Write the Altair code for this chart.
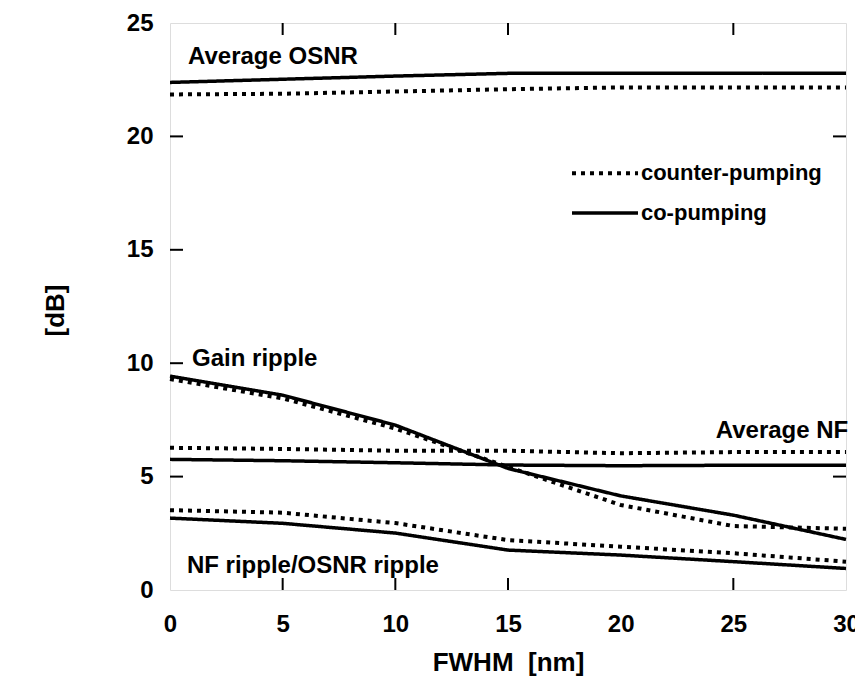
import altair as alt
import pandas as pd

# ---- data ----
fwhm = [0, 5, 10, 15, 20, 25, 30]
osnr_co = [22.38, 22.52, 22.66, 22.78, 22.78, 22.78, 22.78]
osnr_counter = [21.85, 21.88, 21.98, 22.08, 22.16, 22.16, 22.16]
gain_co = [9.43, 8.59, 7.27, 5.36, 4.15, 3.30, 2.23]
gain_counter = [9.30, 8.45, 7.12, 5.43, 3.75, 2.82, 2.70]
nf_co = [5.76, 5.70, 5.61, 5.51, 5.48, 5.50, 5.50]
nf_counter = [6.27, 6.22, 6.14, 6.14, 6.03, 6.08, 6.08]
ripple_co = [3.17, 2.94, 2.51, 1.76, 1.54, 1.25, 0.95]
ripple_counter = [3.52, 3.41, 2.95, 2.20, 1.91, 1.62, 1.25]

x_ticks = [0, 5, 10, 15, 20, 25, 30]
y_ticks = [0, 5, 10, 15, 20, 25]
bottom_ticks = [5, 10, 15, 25]
top_ticks = [5, 10, 15, 25]
left_ticks = [5, 10, 15, 20]
right_ticks = [5, 20]

labels = ["Average OSNR", "Gain ripple", "NF ripple/OSNR ripple", "Average NF"]
label_x = [0.8, 0.98, 0.75, 30.1]
label_y = [23.5, 10.2, 1.05, 7.03]
label_align = ["left", "left", "left", "right"]

legend_names = ["counter-pumping", "co-pumping"]
legend_x0 = [17.84, 17.84]
legend_x1 = [20.77, 20.77]
legend_y = [18.38, 16.62]
legend_tx = 20.9

x_title = "FWHM \u00a0[nm]"
y_title = "[dB]"

FONT = "Liberation Sans"

rows = []
series = {
    ("osnr", "co-pumping"): osnr_co,
    ("osnr", "counter-pumping"): osnr_counter,
    ("gain", "co-pumping"): gain_co,
    ("gain", "counter-pumping"): gain_counter,
    ("nf", "co-pumping"): nf_co,
    ("nf", "counter-pumping"): nf_counter,
    ("ripple", "co-pumping"): ripple_co,
    ("ripple", "counter-pumping"): ripple_counter,
}
for (metric, pump), vals in series.items():
    for xv, yv in zip(fwhm, vals):
        rows.append({"metric": metric, "pump": pump, "fwhm": xv, "db": yv,
                     "key": metric + "|" + pump})
df = pd.DataFrame(rows)

W, H = 676, 567
xs = alt.Scale(domain=[0, 30], nice=False, zero=False)
ys = alt.Scale(domain=[0, 25], nice=False, zero=False)

dash_scale = alt.Scale(domain=["counter-pumping", "co-pumping"],
                       range=[[4, 5], [1, 0]])
width_scale = alt.Scale(domain=["counter-pumping", "co-pumping"], range=[4, 3.5])

lines = alt.Chart(df).mark_line(color="black", strokeCap="butt").encode(
    x=alt.X("fwhm:Q", scale=xs,
            axis=alt.Axis(values=x_ticks, title=x_title, grid=False,
                          ticks=False, tickSize=0, domain=False,
                          labelFont=FONT, labelFontWeight="bold", labelFontSize=24,
                          labelColor="black", labelPadding=22, labelFlush=False,
                          titleFont=FONT, titleFontWeight="bold", titleFontSize=26,
                          titleColor="black", titleX=338, titleY=72,
                          titleBaseline="middle", titleAlign="center")),
    y=alt.Y("db:Q", scale=ys,
            axis=alt.Axis(values=y_ticks, title=y_title, grid=False,
                          ticks=False, tickSize=0, domain=False,
                          labelFont=FONT, labelFontWeight="bold", labelFontSize=24,
                          labelColor="black", labelPadding=17, labelFlush=False,
                          titleFont=FONT, titleFontWeight="bold", titleFontSize=26,
                          titleColor="black", titleX=-115, titleY=287,
                          titleAngle=-90, titleBaseline="middle", titleAlign="center")),
    detail="key:N",
    strokeDash=alt.StrokeDash("pump:N", scale=dash_scale, legend=None),
    strokeWidth=alt.StrokeWidth("pump:N", scale=width_scale, legend=None),
)

tick_df = pd.DataFrame(
    [{"side": "bottom", "v": v} for v in bottom_ticks]
    + [{"side": "top", "v": v} for v in top_ticks]
    + [{"side": "left", "v": v} for v in left_ticks]
    + [{"side": "right", "v": v} for v in right_ticks]
)
tb = alt.Chart(tick_df).transform_filter(alt.datum.side == "bottom").mark_rule(
    color="black", strokeWidth=2).encode(
    x=alt.X("v:Q", scale=xs), y=alt.value(H), y2=alt.value(H - 12))
tt = alt.Chart(tick_df).transform_filter(alt.datum.side == "top").mark_rule(
    color="black", strokeWidth=2).encode(
    x=alt.X("v:Q", scale=xs), y=alt.value(0), y2=alt.value(12))
tl = alt.Chart(tick_df).transform_filter(alt.datum.side == "left").mark_rule(
    color="black", strokeWidth=2).encode(
    y=alt.Y("v:Q", scale=ys), x=alt.value(0), x2=alt.value(13))
tr = alt.Chart(tick_df).transform_filter(alt.datum.side == "right").mark_rule(
    color="black", strokeWidth=2).encode(
    y=alt.Y("v:Q", scale=ys), x=alt.value(W), x2=alt.value(W - 13))

lab_df = pd.DataFrame({"text": labels, "x": label_x, "y": label_y, "align": label_align})
lab_left = alt.Chart(lab_df).transform_filter(alt.datum.align == "left").mark_text(
    font=FONT, fontWeight="bold", fontSize=24, align="left", baseline="middle",
    color="black").encode(x=alt.X("x:Q", scale=xs), y=alt.Y("y:Q", scale=ys), text="text:N")
lab_right = alt.Chart(lab_df).transform_filter(alt.datum.align == "right").mark_text(
    font=FONT, fontWeight="bold", fontSize=24, align="right", baseline="middle",
    color="black").encode(x=alt.X("x:Q", scale=xs), y=alt.Y("y:Q", scale=ys), text="text:N")

leg_df = pd.DataFrame({"pump": legend_names, "x0": legend_x0, "x1": legend_x1,
                       "y": legend_y, "tx": [legend_tx] * 2})
leg_lines = alt.Chart(leg_df).mark_rule(color="black", strokeCap="butt").encode(
    x=alt.X("x0:Q", scale=xs), x2="x1:Q", y=alt.Y("y:Q", scale=ys),
    strokeDash=alt.StrokeDash("pump:N", scale=dash_scale, legend=None),
    strokeWidth=alt.StrokeWidth("pump:N", scale=width_scale, legend=None),
)
leg_text = alt.Chart(leg_df).mark_text(
    font=FONT, fontWeight="bold", fontSize=22, align="left", baseline="middle",
    color="black").encode(x=alt.X("tx:Q", scale=xs), y=alt.Y("y:Q", scale=ys), text="pump:N")

chart = alt.layer(lines, tb, tt, tl, tr, lab_left, lab_right, leg_lines, leg_text).properties(
    width=W, height=H,
    autosize=alt.AutoSizeParams(type="none"),
    padding={"left": 162, "top": 15, "right": 9, "bottom": 96},
).configure_view(stroke="black", strokeWidth=2.5).configure(background="white")

chart.save("out.html", embed_options={"renderer": "svg", "actions": False})
